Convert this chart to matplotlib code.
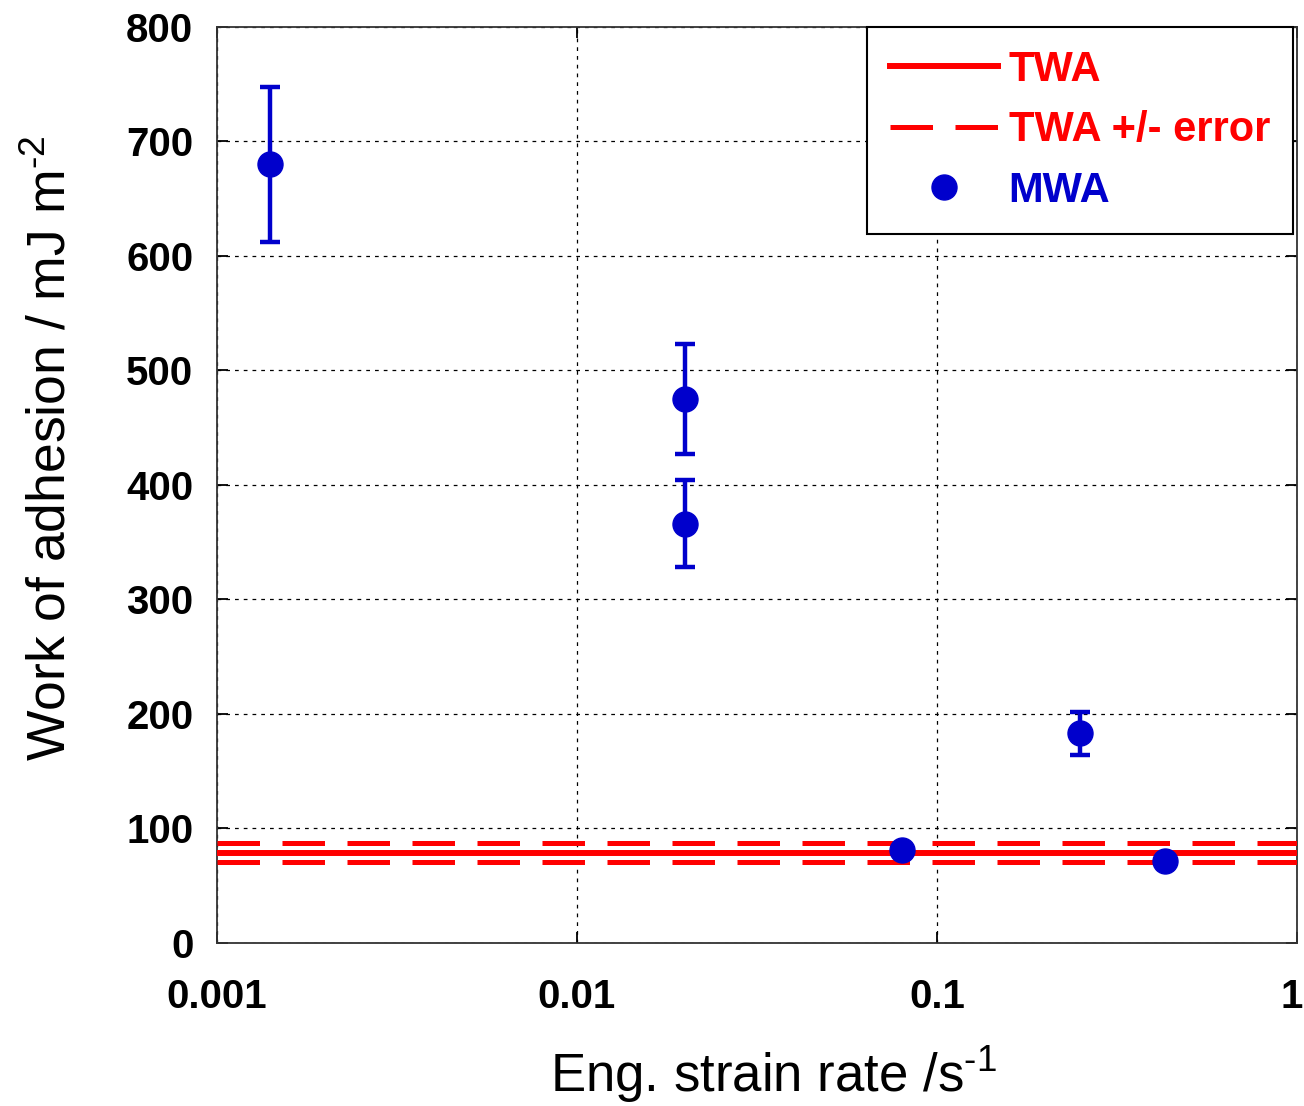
import numpy as np
import matplotlib.pyplot as plt
import matplotlib.transforms as mtransforms
from matplotlib.ticker import FixedLocator, FixedFormatter, NullLocator
from matplotlib.lines import Line2D

plt.rcParams['font.family'] = ['Liberation Sans', 'DejaVu Sans']
plt.rcParams['mathtext.fontset'] = 'custom'
plt.rcParams['mathtext.rm'] = 'Liberation Sans'
plt.rcParams['mathtext.it'] = 'Liberation Sans'

# data
strain_rate = [0.0014, 0.02, 0.02, 0.08, 0.25, 0.43]
mwa = [680, 475, 366, 81, 183, 72]
mwa_err = [68, 48, 38, 0, 19, 0]
twa = 79
twa_err = 8

xticks = [0.001, 0.01, 0.1, 1]
xtick_labels = ['0.001', '0.01', '0.1', '1']
yticks = [0, 100, 200, 300, 400, 500, 600, 700, 800]

red = '#ff0000'
blue = '#0000cc'

fig = plt.figure(figsize=(13.04, 11.06), dpi=100)
ax = fig.add_axes([0.1664, 0.1474, 0.8282, 0.8282])

ax.set_xscale('log')
ax.set_xlim(0.001, 1)
ax.set_ylim(0, 800)

ax.grid(True, color='black', linestyle=(0, (3, 4)), linewidth=0.9)
ax.set_axisbelow(True)

ax.axhline(twa, color=red, lw=4.3, zorder=3)
ax.axhline(twa + twa_err, color=red, lw=3.6, dashes=(8.5, 4.5), zorder=3)
ax.axhline(twa - twa_err, color=red, lw=3.6, dashes=(8.5, 4.5), zorder=3)

ax.errorbar(strain_rate, mwa, yerr=mwa_err, fmt='o', color=blue, ms=18,
            elinewidth=3.2, capsize=7, capthick=3.2, zorder=4)

ax.xaxis.set_major_locator(FixedLocator(xticks))
ax.xaxis.set_major_formatter(FixedFormatter(xtick_labels))
ax.xaxis.set_minor_locator(NullLocator())
ax.set_yticks(yticks)
ax.tick_params(direction='in', length=8, width=1.3, top=True, right=True,
               labelsize=29, pad=17)
ax.tick_params(axis='x', pad=25)
for lab in ax.get_xticklabels() + ax.get_yticklabels():
    lab.set_fontweight('bold')
# last x label sits at the figure edge, nudge it a little left
last = ax.get_xticklabels()[-1]
last.set_transform(last.get_transform() +
                   mtransforms.ScaledTranslation(-5 / 100, 0, fig.dpi_scale_trans))
for s in ax.spines.values():
    s.set_linewidth(1.3)
    s.set_color('#333333')

ax.set_xlabel(r'Eng. strain rate /s$^{\text{-1}}$', fontsize=38)
ax.set_ylabel(r'Work of adhesion / mJ m$^{\text{-2}}$', fontsize=38.5)
ax.xaxis.set_label_coords(0.515, -0.111)
ax.yaxis.set_label_coords(-0.130, 0.54)

handles = [Line2D([], [], color=red, lw=4.3),
           Line2D([], [], color=red, lw=3.6, dashes=(8.5, 4.5)),
           Line2D([], [], color=blue, marker='o', ms=18, ls='none')]
labels = ['TWA', 'TWA +/- error', 'MWA']
leg = ax.legend(handles, labels,
                loc='upper right', bbox_to_anchor=(0.9963, 1.0), fontsize=30,
                frameon=True, fancybox=False, edgecolor='black', framealpha=1,
                handlelength=2.6, handletextpad=0.25, borderpad=0.55,
                labelspacing=0.49, borderaxespad=0)
leg.get_frame().set_linewidth(1.5)
for txt, col in zip(leg.get_texts(), [red, red, blue]):
    txt.set_color(col)
    txt.set_fontweight('bold')

fig.savefig('out.png', dpi=100)
